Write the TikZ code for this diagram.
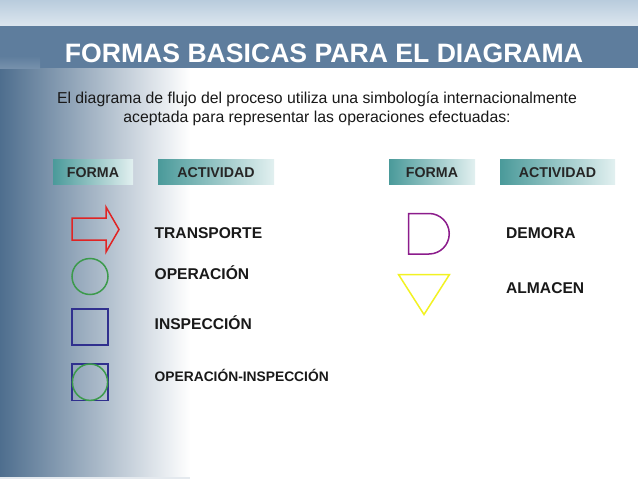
\documentclass[tikz,border=0pt]{standalone}
\usepackage{fontspec}
\setmainfont{Liberation Sans}
\begin{document}
\begin{tikzpicture}[x=1pt,y=-1pt,
  hdr/.style={left color=hdrdark,right color=hdrlight,draw=none,minimum height=25pt,inner sep=0pt},
  hdrtxt/.style={font=\fontsize{14.2}{16}\selectfont\bfseries,text=black!85,anchor=base,inner sep=0pt},
  lbl/.style={font=\fontsize{15.6}{18}\selectfont\bfseries,anchor=base west,text=black!90,inner sep=0pt},
  shp/.style={line width=1.5pt}]
\definecolor{bandblue}{HTML}{5E7D9D}
\definecolor{sideblue}{HTML}{4E6E8E}
\definecolor{topa}{HTML}{B9CCDD}
\definecolor{topb}{HTML}{DCE6EF}
\definecolor{hdrdark}{HTML}{4A9A9A}
\definecolor{hdrlight}{HTML}{E2F0F0}
\definecolor{arrred}{HTML}{E02424}
\definecolor{opgreen}{HTML}{3C9A4C}
\definecolor{inblue}{HTML}{30308E}
\definecolor{dempurple}{HTML}{8C1C8C}
\definecolor{almyellow}{HTML}{F2F222}
\useasboundingbox (0,0) rectangle (638,479);
% background
\fill[white] (0,0) rectangle (638,479);
\shade[top color=topa,bottom color=topb] (0,0) rectangle (638,26);
\shade[left color=sideblue,right color=white] (0,68) rectangle (190,479);
\fill[bandblue] (0,26) rectangle (638,68);
\shade[top color=bandblue,bottom color=bandblue!85!white] (0,56) rectangle (40,68);
\fill[white!85!sideblue] (0,476.5) rectangle (190,479);
% title
\node[text=white,font=\fontsize{26.6}{30}\selectfont\bfseries,anchor=base,inner sep=0pt] (title) at (324,62) {FORMAS BASICAS PARA EL DIAGRAMA};
\node[align=center,font=\fontsize{15.8}{19}\selectfont,text=black!90,inner sep=0pt] (intro) at (317,108.5)
 {El diagrama de flujo del proceso utiliza una simbología internacionalmente\\aceptada para representar las operaciones efectuadas:};
% headers
\node[hdr,minimum width=80pt] (h1) at (93,171.5) {};
\node[hdrtxt] at (93,177.3) {FORMA};
\node[hdr,minimum width=116pt] (h2) at (216,171.5) {};
\node[hdrtxt] at (216,177.3) {ACTIVIDAD};
\node[hdr,minimum width=86pt] (h3) at (432,171.5) {};
\node[hdrtxt] at (432,177.3) {FORMA};
\node[hdr,minimum width=115pt] (h4) at (557.5,171.5) {};
\node[hdrtxt] at (557.5,177.3) {ACTIVIDAD};
% transporte
\draw[shp,arrred,line join=miter] (72,218) -- (106,218) -- (106,207) -- (119,229.5) -- (106,252) -- (106,240) -- (72,240) -- cycle;
\node[lbl] (t1) at (154.5,238) {TRANSPORTE};
% operacion
\draw[shp,opgreen] (90,276.5) circle (18);
\node[lbl] (t2) at (154.5,279.5) {OPERACIÓN};
% inspeccion
\draw[shp,inblue] (72,309) rectangle (108,345);
\node[lbl] (t3) at (154.5,329) {INSPECCIÓN};
% operacion-inspeccion
\draw[shp,inblue] (72,364) rectangle (108,400.5);
\draw[shp,opgreen] (90,382.2) ellipse (17.6 and 18.2);
\node[lbl,font=\fontsize{13.8}{16}\selectfont\bfseries] (t4) at (154.5,381.7) {OPERACIÓN-INSPECCIÓN};
% demora
\draw[shp,dempurple] (408.5,254) -- (408.5,213.5) -- (429,213.5) arc[start angle=-90,end angle=90,radius=20.25] -- cycle;
\node[lbl] (t5) at (506,238.3) {DEMORA};
% almacen
\draw[shp,almyellow,line join=miter] (398.5,274.5) -- (449.5,274.5) -- (424,314.5) -- cycle;
\node[lbl] (t6) at (506,293.3) {ALMACEN};
\end{tikzpicture}
\end{document}
